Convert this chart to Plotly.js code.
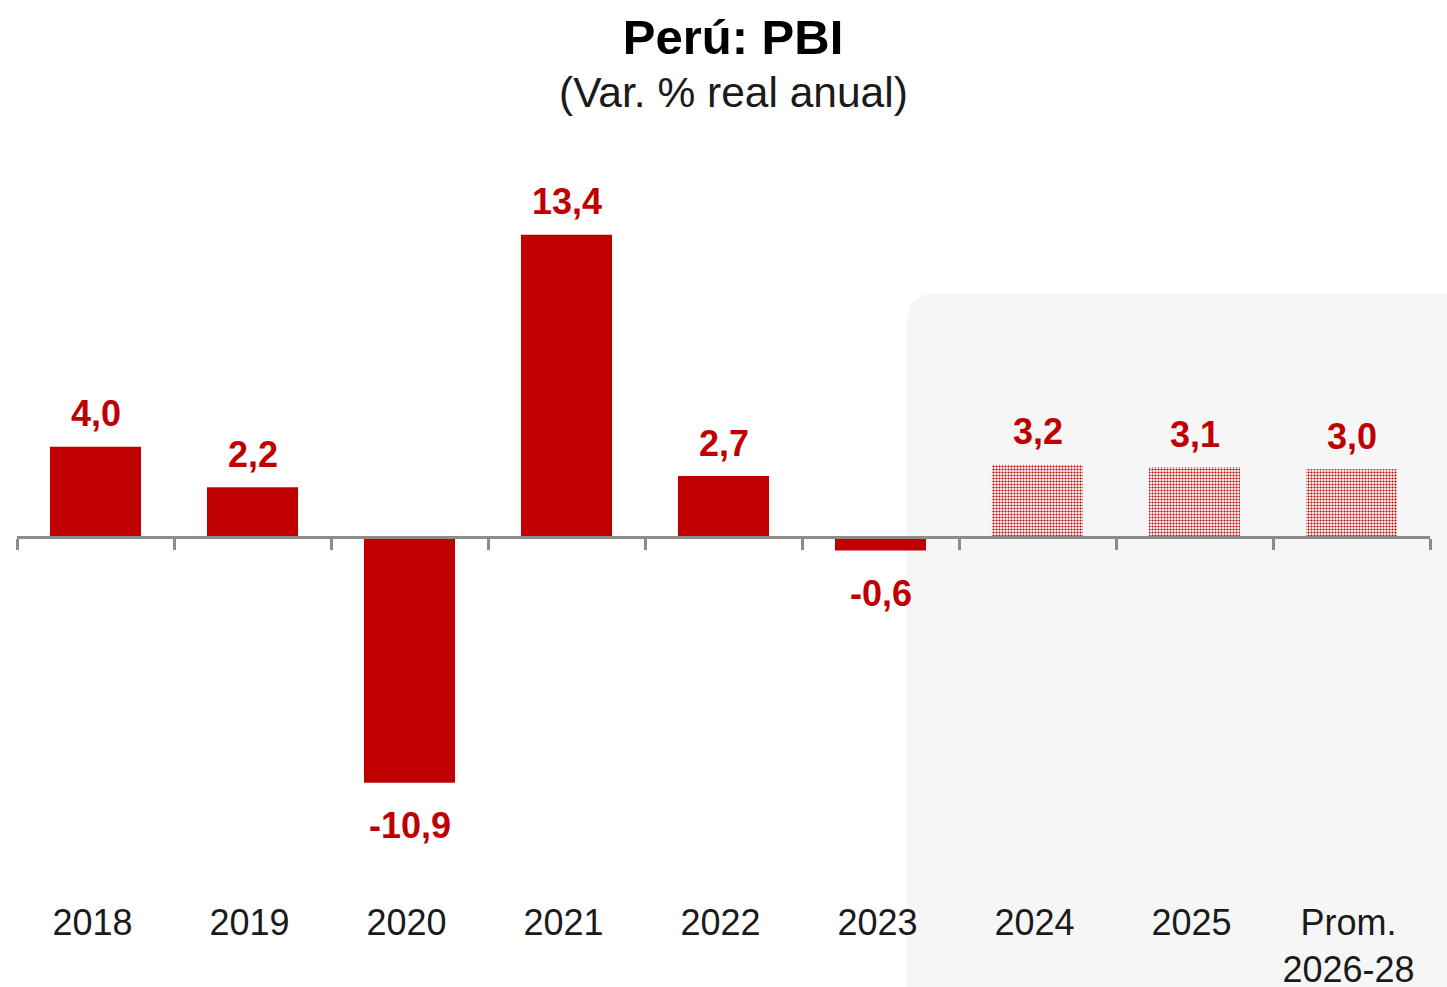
<!DOCTYPE html>
<html>
<head>
<meta charset="utf-8">
<script src="https://cdn.plot.ly/plotly-3.0.1.min.js"></script>
<style>html,body{margin:0;padding:0;background:#fff;}#chart{width:1447px;height:987px;}</style>
</head>
<body>
<div id="chart"></div>
<script>
const categories = ["2018", "2019", "2020", "2021", "2022", "2023", "2024", "2025", "Prom.<br>2026-28"];
const values = [4.0, 2.2, -10.9, 13.4, 2.7, -0.6, 3.2, 3.1, 3.0];
const isForecast = [false, false, false, false, false, false, true, true, true];

const RED = "#c00000";
const FONT = "Liberation Sans, Arial, sans-serif";
const yMin = -16.32, yMax = 17.16;
const zeroFrac = (0 - yMin) / (yMax - yMin);
const idx = categories.map((_, i) => i);

const trace = {
  type: "bar",
  x: idx,
  y: values,
  width: 0.58,
  marker: {
    color: values.map(() => RED),
    line: {width: 0},
    pattern: {
      shape: isForecast.map(f => f ? "." : ""),
      fillmode: "replace",
      bgcolor: isForecast.map(f => f ? "#f3c0c0" : "rgba(0,0,0,0)"),
      size: 3,
      solidity: 0.4
    }
  },
  hoverinfo: "skip"
};

const annotations = values.map((v, i) => ({
  x: idx[i],
  y: v,
  xref: "x", yref: "y",
  text: "<b>" + v.toFixed(1).replace(".", ",") + "</b>",
  showarrow: false,
  yanchor: "middle",
  yshift: v >= 0 ? 33 : -43,
  font: {family: FONT, size: 36, color: RED}
}));

annotations.push({
  xref: "paper", yref: "paper",
  x: (733 - 17) / 1413, y: (905 - 93) / 755,
  text: "(Var. % real anual)",
  showarrow: false, xanchor: "center", yanchor: "middle",
  font: {family: FONT, size: 42.5, color: "#1a1a1a"}
});

// shaded forecast panel with rounded top-left corner (paper coords)
const x0 = (907 - 17) / 1413, x1 = 1.03;
const yt = (905 - 293) / 755, yb = -0.15;
const rx = 30 / 1413, ry = 30 / 755;
const panelPath = `M ${x0},${yb} L ${x0},${yt - ry} Q ${x0},${yt} ${x0 + rx},${yt} L ${x1},${yt} L ${x1},${yb} Z`;

const layout = {
  width: 1447, height: 987,
  margin: {l: 17, r: 17, t: 150, b: 82},
  paper_bgcolor: "#ffffff",
  plot_bgcolor: "rgba(0,0,0,0)",
  showlegend: false,
  title: {
    text: "<b>Perú: PBI</b>",
    x: 733 / 1447, xanchor: "center",
    y: 1 - 37 / 987, yanchor: "middle",
    font: {family: FONT, size: 49, color: "#000000"}
  },
  xaxis: {
    type: "linear",
    range: [-0.5, categories.length - 0.5],
    anchor: "free",
    position: zeroFrac,
    showline: true,
    linecolor: "#8c8c8c",
    linewidth: 3,
    tickmode: "array",
    tickvals: idx,
    ticktext: categories,
    ticks: "",
    tickangle: 0,
    minor: {
      ticks: "outside",
      tick0: -0.5,
      dtick: 1,
      ticklen: 11,
      tickwidth: 3,
      tickcolor: "#8c8c8c",
      showgrid: false
    },
    ticklabelstandoff: 353,
    ticklabelshift: -3,
    showgrid: false,
    zeroline: false,
    tickfont: {family: FONT, size: 36, color: "#1a1a1a"},
    fixedrange: true
  },
  yaxis: {
    range: [yMin, yMax],
    visible: false,
    showgrid: false,
    zeroline: false,
    fixedrange: true
  },
  shapes: [{
    type: "path",
    xref: "paper", yref: "paper",
    path: panelPath,
    fillcolor: "#f6f6f6",
    line: {width: 0},
    layer: "below"
  }],
  annotations: annotations
};

Plotly.newPlot("chart", [trace], layout, {displayModeBar: false, staticPlot: true});
</script>
</body>
</html>
